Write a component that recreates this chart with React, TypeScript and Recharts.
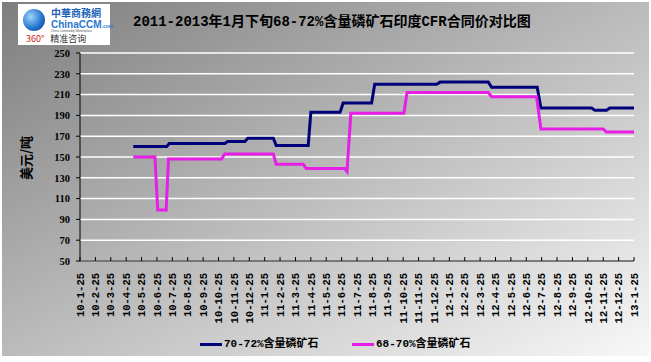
import { LineChart, Line, XAxis, YAxis, CartesianGrid } from "recharts"

// x axis runs by month: index 0 = 10-1-25 ... index 36 = 13-1-25
const monthLabels = [
  "10-1-25", "10-2-25", "10-3-25", "10-4-25", "10-5-25", "10-6-25", "10-7-25", "10-8-25", "10-9-25", "10-10-25", "10-11-25", "10-12-25",
  "11-1-25", "11-2-25", "11-3-25", "11-4-25", "11-5-25", "11-6-25", "11-7-25", "11-8-25", "11-9-25", "11-10-25", "11-11-25", "11-12-25",
  "12-1-25", "12-2-25", "12-3-25", "12-4-25", "12-5-25", "12-6-25", "12-7-25", "12-8-25", "12-9-25", "12-10-25", "12-11-25", "12-12-25",
  "13-1-25",
]
const monthTicks = monthLabels.map((_, i) => i)
const priceTicks = [50, 70, 90, 110, 130, 150, 170, 190, 210, 230, 250]

// 70-72% grade (USD/t)
const highMonths = [3.46, 5.63, 5.8, 9.42, 9.6, 10.72, 10.9, 12.56, 12.75, 14.83, 15.0, 16.9, 17.1, 18.95, 19.15, 23.18, 23.4, 26.53, 26.75, 29.71, 29.95, 33.25, 33.45, 34.22, 34.42, 36]
const highPrices = [160, 160, 163, 163, 165, 165, 168, 168, 161, 161, 193, 193, 202, 202, 220, 220, 222, 222, 217, 217, 197, 197, 195, 195, 197, 197]

// 68-70% grade (USD/t)
const lowMonths = [3.46, 4.87, 5.05, 5.6, 5.75, 9.2, 9.4, 12.56, 12.75, 14.5, 14.7, 17.2, 17.35, 17.6, 21.05, 21.25, 26.53, 26.75, 29.67, 29.95, 34.0, 34.2, 36]
const lowPrices = [150, 150, 99, 99, 148, 148, 153, 153, 143, 143, 139, 139, 136, 192, 192, 212, 212, 208, 208, 177, 177, 174, 174]

const highData = highMonths.map((m, i) => ({ m, v: highPrices[i] }))
const lowData = lowMonths.map((m, i) => ({ m, v: lowPrices[i] }))

const NAVY = "#000078"
const MAGENTA = "#e61ee6"
const cjk = "'Noto Sans CJK SC', sans-serif"
const mono = "'Liberation Mono', 'Noto Sans CJK SC', monospace"

const MonthTick = ({ x, y, payload }: any) => (
  <g>
    <line x1={x} y1={y} x2={x} y2={y - 4} stroke="#000" />
    <text
      x={x}
      y={y + 12}
      transform={`rotate(-90 ${x} ${y + 12})`}
      textAnchor="end"
      dy="0.35em"
      fontSize={10.5}
      fontWeight="bold"
      fontFamily={mono}
      fill="#000"
    >
      {monthLabels[payload.value]}
    </text>
  </g>
)

const Logo = () => (
  <div style={{ position: "absolute", left: 18, top: 4, width: 92, height: 41, background: "#fff" }}>
    <div
      style={{
        position: "absolute", left: 5, top: 5, width: 22, height: 22, borderRadius: "50%",
        background: "radial-gradient(circle at 35% 35%, #9fd4ff, #1f6fc8 60%, #0b3f8a)",
      }}
    />
    <div style={{ position: "absolute", left: 33, top: 3, fontSize: 10, fontWeight: "bold", color: "#1d63b8", fontFamily: cjk, lineHeight: "12px" }}>中華商務網</div>
    <div style={{ position: "absolute", left: 33, top: 15, fontSize: 10, fontWeight: "bold", color: "#2a78cc", fontFamily: "'Liberation Sans', sans-serif", lineHeight: "11px" }}>
      ChinaCCM<span style={{ fontSize: 5 }}>.com</span>
    </div>
    <div style={{ position: "absolute", left: 33, top: 25, fontSize: 3, color: "#555", fontFamily: "'Liberation Sans', sans-serif" }}>China Commodity Marketplace</div>
    <div style={{ position: "absolute", left: 8, top: 29, fontSize: 9, fontFamily: cjk, lineHeight: "11px", whiteSpace: "nowrap" }}>
      <span style={{ color: "#d02020" }}>360°</span>
      <span style={{ color: "#333", marginLeft: 6 }}>精准咨询</span>
    </div>
  </div>
)

const LegendRow = () => (
  <div style={{ position: "absolute", left: 0, top: 336, width: 651, height: 16, fontFamily: mono, fontSize: 11, fontWeight: "bold" }}>
    <div style={{ position: "absolute", left: 200, top: 7, width: 22, height: 3, background: NAVY }} />
    <div style={{ position: "absolute", left: 224, top: 0, lineHeight: "16px", whiteSpace: "nowrap" }}>70-72%含量磷矿石</div>
    <div style={{ position: "absolute", left: 352, top: 7, width: 22, height: 3, background: MAGENTA }} />
    <div style={{ position: "absolute", left: 376, top: 0, lineHeight: "16px", whiteSpace: "nowrap" }}>68-70%含量磷矿石</div>
  </div>
)

export default function App() {
  return (
    <div style={{ position: "absolute", left: 0, top: 0, width: 651, height: 362, background: "#fff" }}>
      <div
        style={{
          position: "absolute", left: 2, top: 2, width: 647, height: 354,
          background: "linear-gradient(to bottom right, #7e7e7e, #f8f8f8)",
        }}
      />
      <Logo />
      <div
        style={{
          position: "absolute", left: 133, top: 13, fontSize: 14, fontWeight: "bold",
          fontFamily: mono, whiteSpace: "nowrap", lineHeight: "18px", color: "#000",
        }}
      >
        2011-2013年1月下旬68-72%含量磷矿石印度CFR合同价对比图
      </div>
      <div
        style={{
          position: "absolute", left: 25, top: 158, transform: "translate(-50%, -50%) rotate(-90deg)",
          fontSize: 13, fontWeight: "bold", fontFamily: cjk, whiteSpace: "nowrap", color: "#000",
        }}
      >
        美元/吨
      </div>
      <div style={{ position: "absolute", left: 0, top: 0 }}>
        <LineChart width={651} height={362} margin={{ top: 53, right: 17, bottom: 0, left: 0 }}>
          <CartesianGrid vertical={false} stroke="#ffffff" strokeWidth={1.5} />
          <XAxis
            type="number"
            dataKey="m"
            domain={[0, 36]}
            ticks={monthTicks}
            interval={0}
            allowDataOverflow
            height={101}
            tickSize={0}
            tickMargin={0}
            tickLine={false}
            axisLine={{ stroke: "#000" }}
            tick={<MonthTick />}
          />
          <YAxis
            type="number"
            domain={[50, 250]}
            ticks={priceTicks}
            interval={0}
            width={80}
            tickSize={4}
            tickMargin={6}
            axisLine={{ stroke: "#000" }}
            tickLine={{ stroke: "#000" }}
            tick={{ fontSize: 10.5, fontWeight: "bold", fill: "#000", fontFamily: "'Liberation Serif', serif" }}
          />
          <Line data={highData} dataKey="v" name="70-72%含量磷矿石" type="linear" stroke={NAVY} strokeWidth={3} dot={false} isAnimationActive={false} />
          <Line data={lowData} dataKey="v" name="68-70%含量磷矿石" type="linear" stroke={MAGENTA} strokeWidth={3} dot={false} isAnimationActive={false} />
        </LineChart>
      </div>
      <LegendRow />
    </div>
  )
}
